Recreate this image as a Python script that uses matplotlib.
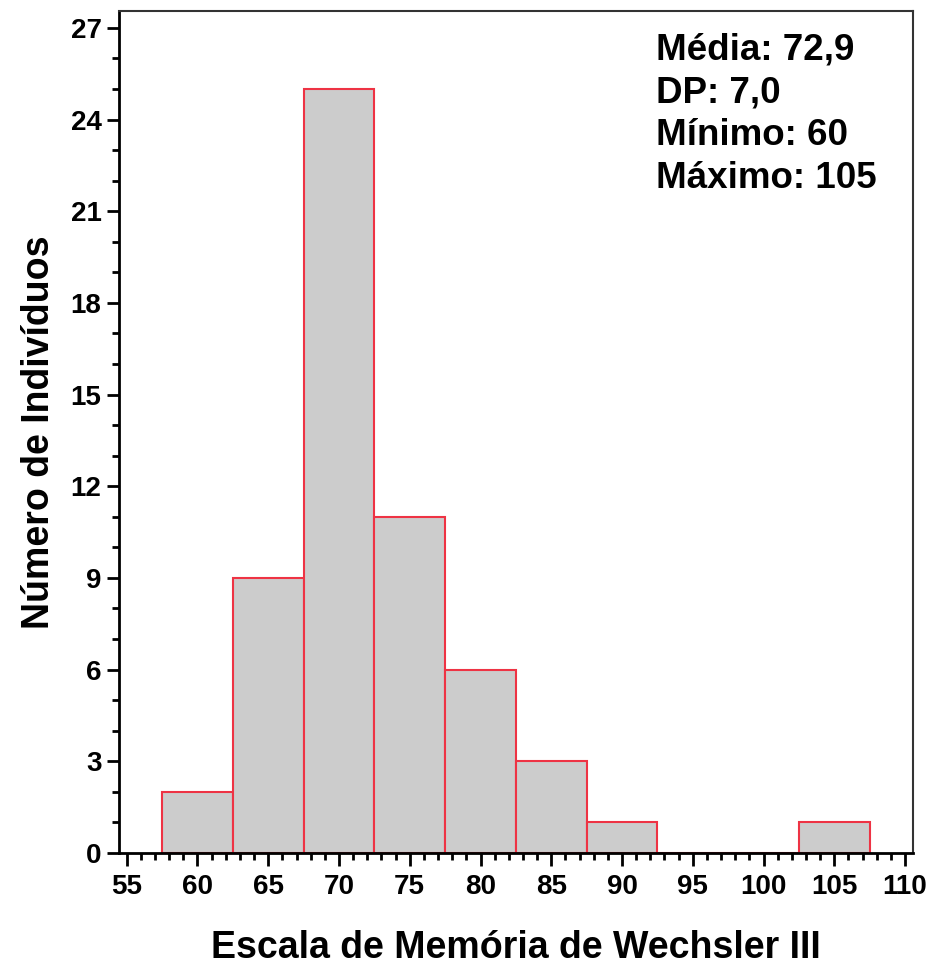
import matplotlib.pyplot as plt
from matplotlib.ticker import MultipleLocator

# bin centres and counts
centros = [60, 65, 70, 75, 80, 85, 90, 95, 100, 105]
contagens = [2, 9, 25, 11, 6, 3, 1, 0, 0, 1]
largura = 5
x_ticks = [55, 60, 65, 70, 75, 80, 85, 90, 95, 100, 105, 110]
y_ticks = [0, 3, 6, 9, 12, 15, 18, 21, 24, 27]
estatisticas = ["Média: 72,9", "DP: 7,0", "Mínimo: 60", "Máximo: 105"]


def main():
    plt.rcParams['font.family'] = ['Liberation Sans', 'DejaVu Sans']
    plt.rcParams['font.weight'] = 'bold'

    fig = plt.figure(figsize=(9.33, 9.67), dpi=100)
    ax = fig.add_axes([0.1275, 0.118, 0.851, 0.8705])

    ax.bar(centros, contagens, width=largura, color='#cccccc',
           edgecolor='#ee3344', linewidth=1.5)

    ax.set_xlim(54.45, 110.56)
    ax.set_ylim(0, 27.55)
    ax.set_xticks(x_ticks)
    ax.set_yticks(y_ticks)
    ax.xaxis.set_minor_locator(MultipleLocator(1))
    ax.yaxis.set_minor_locator(MultipleLocator(1))
    ax.tick_params(which='major', direction='out', length=9, width=2,
                   labelsize=20)
    ax.tick_params(axis='x', which='major', pad=6)
    ax.tick_params(which='minor', direction='out', length=5, width=2)
    for lab in ax.get_xticklabels() + ax.get_yticklabels():
        lab.set_fontweight('bold')

    for s in ax.spines.values():
        s.set_linewidth(1.5)
        s.set_color('#333333')
    ax.spines['left'].set_linewidth(2)
    ax.spines['bottom'].set_linewidth(2)
    ax.spines['left'].set_color('black')
    ax.spines['bottom'].set_color('black')

    ax.set_xlabel("Escala de Memória de Wechsler III", fontsize=27,
                  fontweight='bold', labelpad=22)
    ax.set_ylabel("Número de Indivíduos", fontsize=27,
                  fontweight='bold', labelpad=10)

    ax.text(0.676, 0.975, "\n".join(estatisticas), transform=ax.transAxes,
            fontsize=26.5, fontweight='bold', va='top', ha='left',
            linespacing=1.3)

    fig.savefig("out.png", dpi=100)


if __name__ == "__main__":
    main()
